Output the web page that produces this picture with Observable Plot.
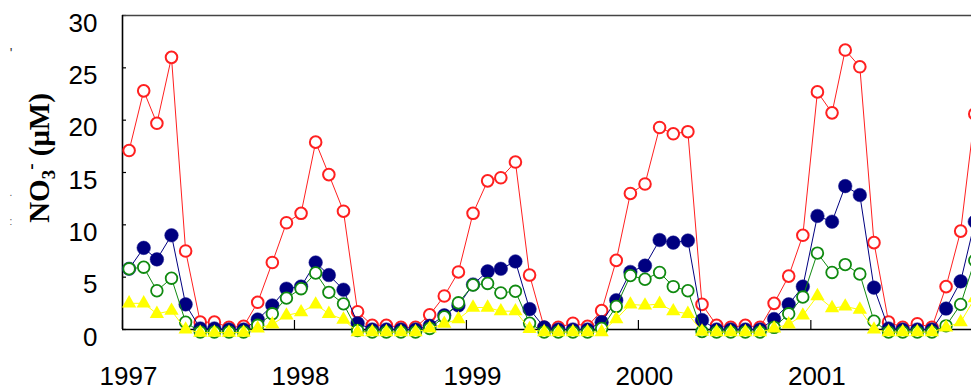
<!DOCTYPE html>
<html>
<head>
<meta charset="utf-8">
<script src="https://cdn.jsdelivr.net/npm/d3@7"></script>
<script src="https://cdn.jsdelivr.net/npm/@observablehq/plot@0.6"></script>
<style>
  html, body { margin: 0; padding: 0; background: white; overflow: hidden; }
  #chart { position: relative; width: 971px; height: 390px; }
</style>
</head>
<body>
<div id="chart"></div>
<script>
// Monthly samples, Jan 1997 – Dec 2001 (mid-month)
const startYear = 1997;
const monthCount = 60;
const yearTicks = [1997, 1998, 1999, 2000, 2001];
const yTicks = [0, 5, 10, 15, 20, 25, 30];

// NO3- (µM) series
const redSeries = [
  17.1, 22.8, 19.7, 26.0, 7.5, 0.7, 0.7, 0.2, 0.3, 2.6, 6.4, 10.2,
  11.1, 17.9, 14.8, 11.3, 1.7, 0.4, 0.4, 0.2, 0.2, 1.4, 3.2, 5.5,
  11.1, 14.2, 14.5, 16.0, 5.2, 0.2, 0.2, 0.6, 0.3, 1.8, 6.6, 13.0,
  13.9, 19.3, 18.7, 18.9, 2.4, 0.4, 0.2, 0.4, 0.2, 2.5, 5.1, 9.0,
  22.7, 20.7, 26.7, 25.1, 8.3, 0.7, 0.2, 0.55, 0.2, 4.1, 9.4, 20.6
];
const navySeries = [
  5.8, 7.8, 6.7, 9.0, 2.4, 0.1, 0.1, 0.0, 0.0, 0.95, 2.3, 3.9,
  4.1, 6.4, 5.2, 3.8, 0.6, 0.0, 0.0, 0.0, 0.0, 0.35, 1.35, 2.3,
  4.3, 5.55, 5.8, 6.5, 1.95, 0.2, 0.0, 0.0, 0.0, 0.7, 2.8, 5.5,
  6.1, 8.55, 8.3, 8.5, 0.9, 0.0, 0.0, 0.0, 0.0, 1.0, 2.4, 4.1,
  10.85, 10.3, 13.7, 12.85, 4.0, 0.1, 0.0, 0.0, 0.0, 2.0, 4.6, 10.3
];
const greenSeries = [
  5.8, 5.95, 3.7, 4.9, 0.7, -0.25, -0.25, -0.25, -0.25, 0.4, 1.5, 3.0,
  3.9, 5.4, 3.55, 2.45, -0.1, -0.25, -0.25, -0.25, -0.25, 0.1, 1.2, 2.55,
  4.25, 4.4, 3.5, 3.65, 0.6, -0.25, -0.25, -0.25, -0.25, 0.1, 2.2, 5.15,
  4.8, 5.45, 4.1, 3.7, -0.2, -0.25, -0.25, -0.25, -0.25, 0.2, 1.5, 3.1,
  7.3, 5.45, 6.2, 5.3, 0.8, -0.25, -0.25, -0.25, -0.25, 0.35, 2.4, 6.6
];
const yellowSeries = [
  2.5, 2.5, 1.5, 1.8, 0.0, -0.3, -0.3, -0.3, -0.3, 0.1, 0.5, 1.35,
  1.65, 2.4, 1.5, 0.95, -0.25, -0.25, -0.25, -0.25, -0.25, 0.1, 0.55, 1.0,
  2.1, 2.1, 1.75, 1.75, 0.05, -0.25, -0.25, -0.25, -0.25, -0.25, 1.0, 2.4,
  2.3, 2.45, 1.75, 1.5, -0.2, -0.25, -0.25, -0.25, -0.25, 0.1, 0.5, 1.35,
  3.2, 2.05, 2.2, 1.9, 0.0, -0.25, -0.25, -0.25, -0.25, 0.2, 0.7, 3.0
];

const dates = d3.range(monthCount).map(i => new Date(Date.UTC(startYear, i, 15)));
const toRows = (vals) => vals.map((v, i) => ({date: dates[i], value: v}));
const red = toRows(redSeries), navy = toRows(navySeries), green = toRows(greenSeries), yellow = toRows(yellowSeries);
const xTickDates = yearTicks.map(y => new Date(Date.UTC(y, 0, 1)));

const chart = Plot.plot({
  width: 971,
  height: 390,
  marginLeft: 122,
  marginRight: 0,
  marginTop: 15,
  marginBottom: 61,
  style: {fontFamily: "'Liberation Sans', Arial, sans-serif", background: "white", color: "black", overflow: "visible"},
  x: {type: "utc", domain: [new Date(Date.UTC(1997, 0, 1)), new Date(Date.UTC(2001, 11, 8))], axis: null},
  y: {domain: [0, 30]},
  marks: [
    // axis labels
    Plot.axisY(yTicks, {tickSize: 0, tickPadding: 25, dy: 8, fontSize: 26, label: null, fill: "black"}),
    Plot.text(xTickDates, {x: d => d, frameAnchor: "bottom", lineAnchor: "middle", dy: 47, dx: 6, text: d => d3.utcFormat("%Y")(d), fontSize: 26, fill: "black"}),
    // inward tick marks
    Plot.axisY(yTicks, {tickSize: -4, tickFormat: () => "", label: null, stroke: "black", strokeWidth: 1.2}),
    Plot.axisX(xTickDates, {tickSize: -9, tickFormat: () => "", label: null, stroke: "black", strokeWidth: 1.2}),
    // frame
    Plot.ruleY([30], {stroke: "#444", strokeWidth: 1.5}),
    Plot.ruleY([0], {stroke: "black", strokeWidth: 1.6}),
    Plot.ruleX([new Date(Date.UTC(1997, 0, 1))], {stroke: "black", strokeWidth: 1.6}),
    // series
    Plot.line(red, {x: "date", y: "value", stroke: "#ff2020", strokeWidth: 1}),
    Plot.dot(red, {x: "date", y: "value", r: 5.8, stroke: "#ff2020", strokeWidth: 2, fill: "white"}),
    Plot.line(navy, {x: "date", y: "value", stroke: "#000080", strokeWidth: 1}),
    Plot.dot(navy, {x: "date", y: "value", r: 6.8, fill: "#000080", stroke: "#1a1a90", strokeWidth: 0.5}),
    Plot.line(green, {x: "date", y: "value", stroke: "#108a10", strokeWidth: 1}),
    Plot.dot(green, {x: "date", y: "value", r: 5.8, stroke: "#108a10", strokeWidth: 1.8, fill: "white"}),
    Plot.line(yellow, {x: "date", y: "value", stroke: "#ffff00", strokeWidth: 1}),
    Plot.dot(yellow, {x: "date", y: "value", symbol: "triangle", r: 5.3, fill: "#ffff00", stroke: "none"})
  ]
});

const svg = d3.select(chart);
// y-axis title: NO3- (µM)
const title = svg.append("text")
  .attr("transform", "translate(49,158) rotate(-90)")
  .attr("text-anchor", "middle")
  .attr("font-family", "'Liberation Serif', 'Times New Roman', serif")
  .attr("font-weight", "bold")
  .attr("font-size", 29)
  .attr("fill", "black");
title.append("tspan").text("NO");
title.append("tspan").attr("font-size", 19).attr("dy", 6).text("3");
title.append("tspan").attr("font-size", 19).attr("dy", -18).text("-");
title.append("tspan").attr("dy", 12).text(" (μM)");

// faint stray marks at the far left of the original figure
svg.append("text").attr("x", 11).attr("y", 58).attr("font-size", 14).attr("fill", "#333").text("'");
svg.append("text").attr("x", 11).attr("y", 196).attr("font-size", 10).attr("fill", "#555").text(".");
svg.append("text").attr("x", 11).attr("y", 225).attr("font-size", 10).attr("fill", "#555").text(":");

document.getElementById("chart").appendChild(chart);
</script>
</body>
</html>
